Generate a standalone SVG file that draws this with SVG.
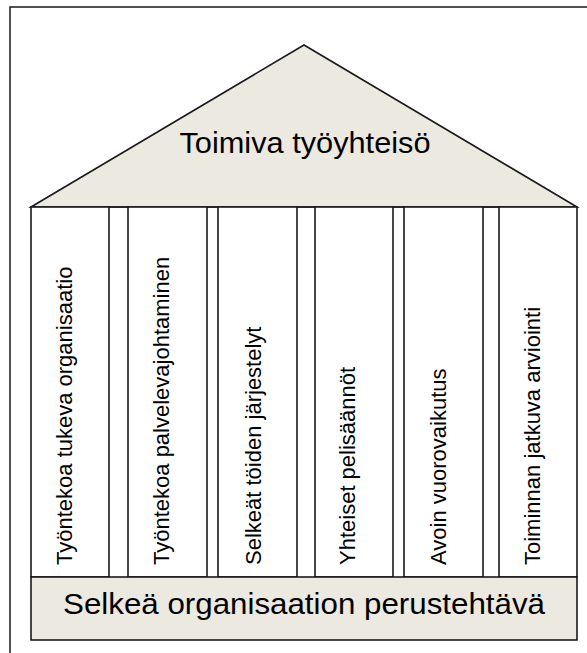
<svg xmlns="http://www.w3.org/2000/svg" width="587" height="653" viewBox="0 0 587 653">
  <style>
    .frame { fill: none; stroke: #1a1a1a; stroke-width: 1.5; }
    .shape { fill: #ECE9E0; stroke: #1a1a1a; stroke-width: 1.6; }
    .col { fill: #ffffff; stroke: #1a1a1a; stroke-width: 1.6; }
    .big { font-family: "Liberation Sans", Arial, sans-serif; font-size: 30px; fill: #000; text-anchor: middle; }
    .ct { font-family: "Liberation Sans", Arial, sans-serif; font-size: 22px; fill: #000; text-anchor: start; }
  </style>
  <rect width="587" height="653" fill="#ffffff"/>
  <g id="frame">
    <polyline class="frame" points="10,653 10,7 587,7"/>
  </g>
  <g id="roof">
    <polygon class="shape" points="31,207 304,45 577,207"/>
    <text class="big" x="305" y="153" textLength="251" lengthAdjust="spacingAndGlyphs">Toimiva työyhteisö</text>
  </g>
  <g id="col1">
    <rect class="col" x="31" y="207" width="78" height="370"/>
    <text class="ct" transform="translate(71.5,565) rotate(-90)">Työntekoa tukeva organisaatio</text>
  </g>
  <g id="col2">
    <rect class="col" x="128" y="207" width="79" height="370"/>
    <text class="ct" transform="translate(168.5,565) rotate(-90)">Työntekoa palvelevajohtaminen</text>
  </g>
  <g id="col3">
    <rect class="col" x="218" y="207" width="79" height="370"/>
    <text class="ct" transform="translate(260.5,565) rotate(-90)">Selkeät töiden järjestelyt</text>
  </g>
  <g id="col4">
    <rect class="col" x="315" y="207" width="78" height="370"/>
    <text class="ct" transform="translate(355,565) rotate(-90)">Yhteiset pelisäännöt</text>
  </g>
  <g id="col5">
    <rect class="col" x="404" y="207" width="79" height="370"/>
    <text class="ct" transform="translate(446,565) rotate(-90)">Avoin vuorovaikutus</text>
  </g>
  <g id="col6">
    <rect class="col" x="499" y="207" width="78" height="370"/>
    <text class="ct" transform="translate(540,565) rotate(-90)">Toiminnan jatkuva arviointi</text>
  </g>
  <g id="gaps">
    <line class="frame" x1="109" y1="207" x2="128" y2="207"/>
    <line class="frame" x1="207" y1="207" x2="218" y2="207"/>
    <line class="frame" x1="297" y1="207" x2="315" y2="207"/>
    <line class="frame" x1="393" y1="207" x2="404" y2="207"/>
    <line class="frame" x1="483" y1="207" x2="499" y2="207"/>
  </g>
  <g id="base">
    <rect class="shape" x="31" y="577" width="546" height="63"/>
    <text class="big" x="304" y="614" textLength="482" lengthAdjust="spacingAndGlyphs">Selkeä organisaation perustehtävä</text>
  </g>
</svg>
